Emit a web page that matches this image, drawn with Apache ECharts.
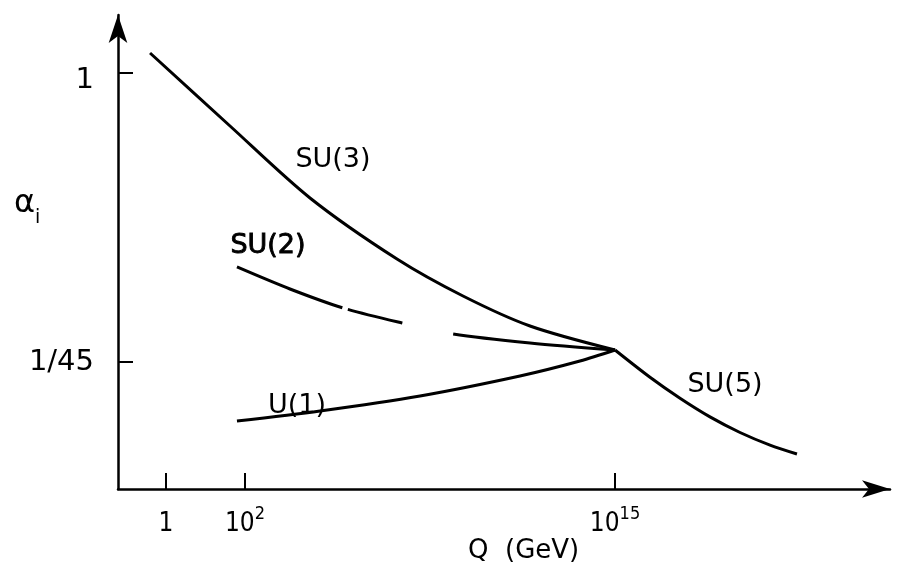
<!DOCTYPE html>
<html>
<head>
<meta charset="utf-8">
<script src="https://cdn.jsdelivr.net/npm/echarts@6/dist/echarts.min.js"></script>
<style>
html,body{margin:0;padding:0;background:#fff;}
#chart{width:919px;height:569px;}
</style>
</head>
<body>
<div id="chart"></div>
<script>
// Schematic coordinates (axis position units, 0..100 along each axis)
const xTickValues = [6.22, 16.45, 64.38];
const xTickLabels = ['1', '10^2', '10^15'];
const yTickValues = [26.79, 87.76];
const yTickLabels = ['1/45', '1'];

const su3X = [4.15, 14.51, 24.87, 36.14, 44.69, 53.37, 64.38];
const su3Y = [91.98, 76.58, 61.40, 48.52, 40.72, 34.39, 29.32];

const su2X = [15.41, 22.28, 29.15, 36.79, 43.39, 53.37, 64.38];
const su2Y = [46.84, 42.19, 38.19, 35.02, 32.70, 30.80, 29.32];

const u1X = [15.41, 26.17, 39.12, 52.07, 59.84, 64.38];
const u1Y = [14.35, 16.46, 19.62, 23.84, 27.00, 29.32];

const su5X = [64.38, 68.91, 72.80, 76.68, 80.57, 84.46, 87.95];
const su5Y = [29.32, 23.57, 19.14, 15.21, 11.92, 9.26, 7.38];

const curveNames = ['SU(3)', 'SU(2)', 'U(1)', 'SU(5)'];
const labelX = [27.85, 19.43, 23.19, 78.63];
const labelY = [69.41, 51.27, 17.51, 21.94];

const FONT = "'DejaVu Sans', sans-serif";
const FONT_C = "'DejaVu Sans Condensed', 'DejaVu Sans', sans-serif";
const INK = '#000000';

function pairs(xs, ys) { return xs.map((x, i) => [x, ys[i]]); }

function fmtTick(text) {
  const m = text.split('^');
  if (m.length === 2) return '{b|' + m[0] + '}{s|' + m[1] + '}';
  return '{b|' + text + '}';
}

const chart = echarts.init(document.getElementById('chart'), null, {renderer: 'canvas'});

const lineBase = {
  type: 'line', showSymbol: false, symbol: 'none', smooth: 0.3, silent: true,
  z: 3
};
const LW = 3;

chart.setOption({
  animation: false,
  backgroundColor: '#ffffff',
  grid: {left: 118, right: 29, top: 15, bottom: 80, containLabel: false},
  xAxis: {
    type: 'value', min: 0, max: 100,
    splitLine: {show: false},
    axisLine: {show: true, lineStyle: {color: INK, width: 2.5}, symbol: ['none', 'arrow'], symbolSize: [13, 28]},
    axisTick: {show: true, inside: true, length: 16, customValues: xTickValues, lineStyle: {color: INK, width: 2}},
    axisLabel: {
      customValues: xTickValues, margin: 18, color: INK, fontFamily: FONT_C,
      formatter: function (v) {
        const i = xTickValues.indexOf(v);
        return fmtTick(i >= 0 ? xTickLabels[i] : '');
      },
      rich: {
        b: {fontSize: 26, fontFamily: FONT_C, color: INK, verticalAlign: 'bottom', lineHeight: 30},
        s: {fontSize: 18, fontFamily: FONT_C, color: INK, verticalAlign: 'bottom', lineHeight: 30, padding: [0, 0, 14, 0]}
      }
    }
  },
  yAxis: {
    type: 'value', min: 0, max: 100,
    splitLine: {show: false},
    axisLine: {show: true, lineStyle: {color: INK, width: 2.5}, symbol: ['none', 'arrow'], symbolSize: [14, 28]},
    axisTick: {show: true, inside: true, length: 15, customValues: yTickValues, lineStyle: {color: INK, width: 2}},
    axisLabel: {
      customValues: yTickValues, margin: 24, color: INK, fontFamily: FONT, fontSize: 29,
      formatter: function (v) {
        const i = yTickValues.indexOf(v);
        if (i < 0) return '';
        return i === 1 ? '{low|' + yTickLabels[i] + '}' : yTickLabels[i];
      },
      rich: {
        low: {fontSize: 29, fontFamily: FONT, color: INK, padding: [14, 0, 0, 0]}
      }
    }
  },
  graphic: [
    {
      type: 'text', left: 14, top: 188, silent: true,
      style: {
        text: '{a|α}{i|i}', fill: INK,
        rich: {
          a: {fontSize: 32, fontFamily: FONT, fill: INK, verticalAlign: 'bottom', lineHeight: 34},
          i: {fontSize: 19, fontFamily: FONT, fill: INK, verticalAlign: 'bottom', lineHeight: 34, padding: [0, 0, -8, 0]}
        }
      }
    },
    {
      type: 'text', left: 468, top: 538, silent: true,
      style: {text: 'Q  (GeV)', fill: INK, font: '26px ' + FONT}
    }
  ],
  series: [
    Object.assign({}, lineBase, {name: curveNames[0], data: pairs(su3X, su3Y), lineStyle: {color: INK, width: LW}}),
    Object.assign({}, lineBase, {name: curveNames[1], data: pairs(su2X, su2Y), lineStyle: {color: INK, width: LW, type: [113, 6, 56, 52, 400]}}),
    Object.assign({}, lineBase, {name: curveNames[2], data: pairs(u1X, u1Y), lineStyle: {color: INK, width: LW}}),
    Object.assign({}, lineBase, {name: curveNames[3], data: pairs(su5X, su5Y), lineStyle: {color: INK, width: LW}}),
    {
      type: 'scatter', name: 'labels', silent: true, symbolSize: 0, z: 4,
      itemStyle: {opacity: 1},
      data: curveNames.map((n, i) => ({name: n, value: [labelX[i], labelY[i]]})),
      label: {
        show: true, position: 'inside', color: INK, fontFamily: FONT, fontSize: 27,
        formatter: function (p) { return p.name === 'SU(2)' ? '{heavy|' + p.name + '}' : p.name; },
        rich: {heavy: {fontSize: 27, fontFamily: FONT, color: INK, textBorderColor: INK, textBorderWidth: 0.9}}
      }
    }
  ]
});
</script>
</body>
</html>
